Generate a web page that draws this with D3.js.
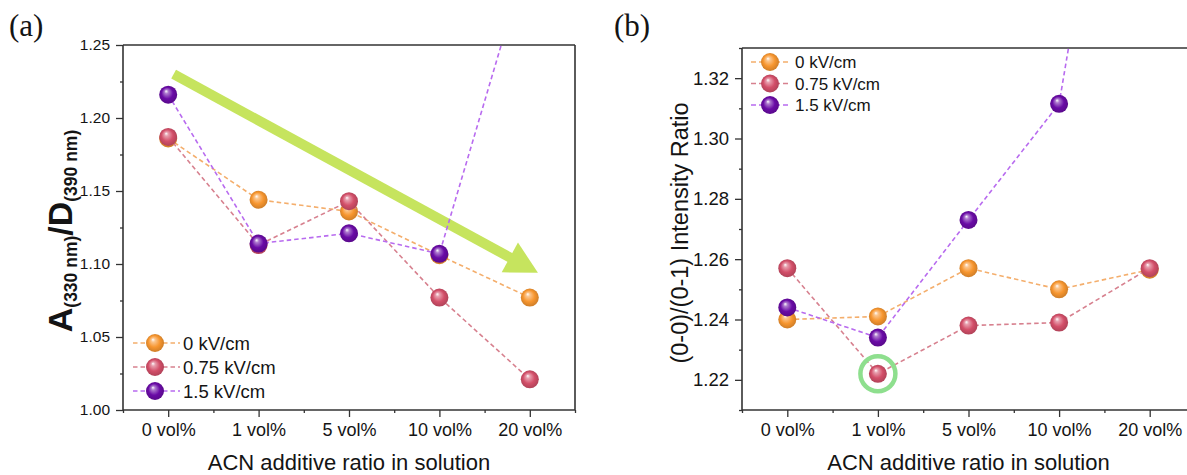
<!DOCTYPE html>
<html>
<head>
<meta charset="utf-8">
<script src="https://cdn.jsdelivr.net/npm/d3@7"></script>
<style>
  body { margin: 0; background: #fff; }
  svg { display: block; }
  text { font-family: "Liberation Sans", Arial, sans-serif; fill: #141414; }
</style>
</head>
<body>
<svg id="fig" width="1187" height="475"></svg>
<script>
// ---- data ----
const categories = ["0 vol%", "1 vol%", "5 vol%", "10 vol%", "20 vol%"];
const seriesNames = ["0 kV/cm", "0.75 kV/cm", "1.5 kV/cm"];

// (a) A(330 nm)/D(390 nm)
const absRatio0 = [1.186, 1.144, 1.136, 1.106, 1.077];
const absRatio075 = [1.187, 1.113, 1.143, 1.077, 1.021];
const absRatio15 = [1.216, 1.114, 1.121, 1.107, 1.316];

// (b) (0-0)/(0-1) intensity ratio
const plRatio0 = [1.240, 1.241, 1.257, 1.250, 1.2565];
const plRatio075 = [1.257, 1.222, 1.238, 1.239, 1.257];
const plRatio15 = [1.244, 1.234, 1.273, 1.3115, 1.49];

const yTicksA = [1.00, 1.05, 1.10, 1.15, 1.20, 1.25];
const yMinorA = [1.025, 1.075, 1.125, 1.175, 1.225];
const yTicksB = [1.22, 1.24, 1.26, 1.28, 1.30, 1.32];
const yMinorB = [1.21, 1.23, 1.25, 1.27, 1.29, 1.31, 1.33];

// trend arrow in (a): [category position, value] for tail and tip
const trendArrow = [[0.06, 1.230], [4.09, 1.094]];
// highlighted point in (b): category index and value
const highlightB = [1, 1.222];

const sphereColors = ["#F7962F", "#D34F69", "#6A0BA6"];
const lineColors = ["#F4AE6C", "#D7818F", "#B86BEF"];

const svg = d3.select("#fig");
const defs = svg.append("defs");

// glossy sphere gradients
sphereColors.forEach((c, i) => {
  const g = defs.append("radialGradient")
    .attr("id", "sph" + i)
    .attr("cx", "50%").attr("cy", "50%").attr("r", "55%")
    .attr("fx", "38%").attr("fy", "30%");
  const base = d3.color(c);
  g.append("stop").attr("offset", "0%").attr("stop-color", "#ffffff");
  g.append("stop").attr("offset", "20%").attr("stop-color", d3.interpolateRgb(c, "#fff")(0.45));
  g.append("stop").attr("offset", "58%").attr("stop-color", c);
  g.append("stop").attr("offset", "100%").attr("stop-color", base.darker(0.6).formatHex());
});

function sphere(sel, cx, cy, r, i) {
  sel.append("circle")
    .attr("cx", cx).attr("cy", cy).attr("r", r)
    .attr("fill", `url(#sph${i})`);
}

function panel(cfg) {
  const { left, right, top, bottom } = cfg;
  const x = d3.scaleLinear().domain([-0.5, categories.length - 0.5]).range([left, right]);
  const y = d3.scaleLinear().domain(cfg.yDomain).range([bottom, top]);
  const g = svg.append("g");

  const clipId = "clip" + cfg.id;
  defs.append("clipPath").attr("id", clipId)
    .append("rect").attr("x", left).attr("y", top)
    .attr("width", right - left).attr("height", bottom - top);

  // x axis: major at categories, minor between
  const xAxis = d3.axisBottom(x)
    .tickValues(d3.range(categories.length))
    .tickFormat(i => categories[i])
    .tickSize(7).tickPadding(6);
  const xMinor = d3.axisBottom(x)
    .tickValues(d3.range(-0.5, categories.length, 1))
    .tickFormat("").tickSize(3);
  const yAxis = d3.axisLeft(y)
    .tickValues(cfg.yTicks).tickFormat(d3.format(".2f"))
    .tickSize(7).tickPadding(cfg.yPad);
  const yMinor = d3.axisLeft(y).tickValues(cfg.yMinor).tickFormat("").tickSize(3);

  const gx = g.append("g").attr("transform", `translate(0,${bottom})`).call(xAxis);
  g.append("g").attr("transform", `translate(0,${bottom})`).call(xMinor);
  const gy = g.append("g").attr("transform", `translate(${left},0)`).call(yAxis);
  g.append("g").attr("transform", `translate(${left},0)`).call(yMinor);
  gx.selectAll("text").style("font-size", "18px");
  gy.selectAll("text").style("font-size", cfg.yFont + "px");
  g.selectAll(".domain").remove();
  g.selectAll(".tick line").attr("stroke", "#333").attr("stroke-width", 1.3);

  // frame
  const frame = g.append("g").attr("stroke", "#333").attr("stroke-width", 1.6).attr("fill", "none");
  frame.append("line").attr("x1", left).attr("x2", left).attr("y1", top).attr("y2", bottom);
  frame.append("line").attr("x1", left).attr("x2", right).attr("y1", bottom).attr("y2", bottom);
  frame.append("line").attr("x1", left).attr("x2", right).attr("y1", top).attr("y2", top);
  frame.append("line").attr("x1", right).attr("x2", right).attr("y1", top).attr("y2", bottom);

  const plot = g.append("g").attr("clip-path", `url(#${clipId})`);
  const line = d3.line().x((d, i) => x(i)).y(d => y(d));

  if (cfg.decorate) cfg.decorate(plot, x, y);

  cfg.series.forEach((vals, si) => {
    plot.append("path").datum(vals)
      .attr("d", line).attr("fill", "none")
      .attr("stroke", lineColors[si]).attr("stroke-width", 1.6)
      .attr("stroke-dasharray", "4.5,3");
    vals.forEach((v, i) => sphere(plot, x(i), y(v), 9, si));
  });

  if (cfg.overlay) cfg.overlay(plot, x, y);

  // legend
  const L = cfg.legend;
  seriesNames.forEach((name, si) => {
    const ly = L.y + si * L.dy;
    g.append("line").attr("x1", L.x0).attr("x2", L.x1).attr("y1", ly).attr("y2", ly)
      .attr("stroke", lineColors[si]).attr("stroke-width", 1.6).attr("stroke-dasharray", L.dash);
    sphere(g, L.mx, ly, 9, si);
    g.append("text").attr("x", L.tx).attr("y", ly).attr("dy", "0.36em")
      .style("font-size", L.font + "px").text(name);
  });

  // x title
  g.append("text").attr("x", (left + right) / 2).attr("y", 470)
    .attr("text-anchor", "middle").style("font-size", "22px")
    .text("ACN additive ratio in solution");

  // panel letter
  g.append("text").attr("x", cfg.letterX).attr("y", 36)
    .style("font-family", "'Liberation Serif', 'Times New Roman', serif")
    .style("font-size", "31px").text(cfg.letter);

  return { g, x, y };
}

// (a)
panel({
  id: "a", left: 123, right: 575, top: 45, bottom: 410,
  yDomain: [1.00, 1.25], yTicks: yTicksA, yMinor: yMinorA, yPad: 6, yFont: 15.5,
  series: [absRatio0, absRatio075, absRatio15],
  legend: { x0: 133, x1: 180, mx: 155, tx: 183, y: 343, dy: 24, font: 18.5, dash: "4.5,3" },
  letter: "(a)", letterX: 9,
  decorate: (plot, x, y) => {
    const [a, b] = trendArrow;
    const x1 = x(a[0]), y1 = y(a[1]), x2 = x(b[0]), y2 = y(b[1]);
    const ang = Math.atan2(y2 - y1, x2 - x1);
    const headLen = 32, headHalf = 17;
    const bx = x2 - headLen * Math.cos(ang), by = y2 - headLen * Math.sin(ang);
    const px = -Math.sin(ang), py = Math.cos(ang);
    plot.append("line").attr("x1", x1).attr("y1", y1).attr("x2", bx + 2 * Math.cos(ang)).attr("y2", by + 2 * Math.sin(ang))
      .attr("stroke", "#C6E45E").attr("stroke-width", 10);
    plot.append("path")
      .attr("d", `M${x2},${y2}L${bx + px * headHalf},${by + py * headHalf}L${bx - px * headHalf},${by - py * headHalf}Z`)
      .attr("fill", "#C6E45E");
  }
});

// (a) y title with subscripts
svg.append("text")
  .attr("transform", "translate(72,231) rotate(-90)")
  .attr("text-anchor", "middle")
  .style("font-weight", "bold").style("font-size", "34px")
  .call(t => {
    t.append("tspan").text("A");
    t.append("tspan").attr("dy", 5).style("font-size", "17.5px").text("(330 nm)");
    t.append("tspan").attr("dy", -5).text("/D");
    t.append("tspan").attr("dy", 5).style("font-size", "17.5px").text("(390 nm)");
  });

// (b)
panel({
  id: "b", left: 742, right: 1195, top: 48, bottom: 410,
  yDomain: [1.21, 1.33], yTicks: yTicksB, yMinor: yMinorB, yPad: 6, yFont: 18.5,
  series: [plRatio0, plRatio075, plRatio15],
  legend: { x0: 751, x1: 790, mx: 770, tx: 795, y: 62, dy: 21.5, font: 17, dash: "5,3" },
  letter: "(b)", letterX: 614,
  overlay: (plot, x, y) => {
    plot.append("circle")
      .attr("cx", x(highlightB[0])).attr("cy", y(highlightB[1])).attr("r", 17.5)
      .attr("fill", "none").attr("stroke", "#8EDF8E").attr("stroke-width", 4.5);
  }
});

svg.append("text")
  .attr("transform", "translate(688,233) rotate(-90)")
  .attr("text-anchor", "middle")
  .style("font-size", "23.5px")
  .text("(0-0)/(0-1) Intensity Ratio");
</script>
</body>
</html>
